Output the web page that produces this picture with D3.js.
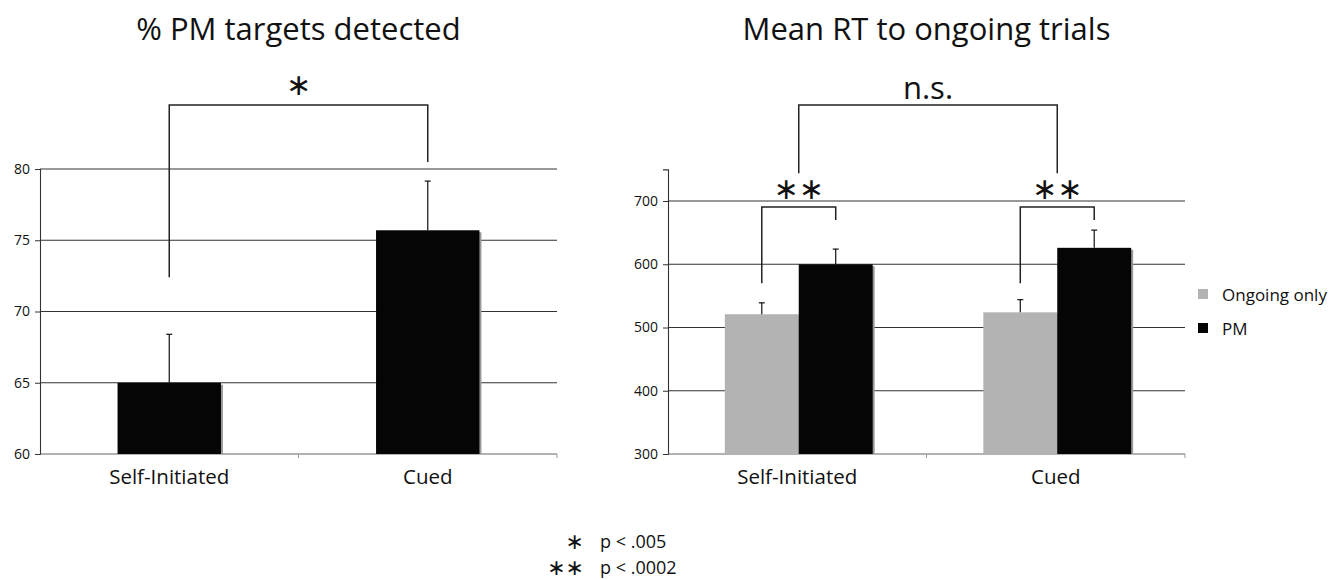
<!DOCTYPE html>
<html>
<head>
<meta charset="utf-8">
<script src="https://cdn.jsdelivr.net/npm/d3@7"></script>
<style>
  body { margin: 0; background: #fff; }
  text { font-family: "Open Sans", "Noto Sans", sans-serif; fill: #111; }
  .star { font-family: "DejaVu Sans", sans-serif; }
</style>
</head>
<body>
<svg id="chart" width="1332" height="580"></svg>
<script>
var categories = ["Self-Initiated", "Cued"];

// left panel: % PM targets detected
var pmDetected = [65.0, 75.7];
var pmDetectedErr = [3.4, 3.45];
var pmTicks = [60, 65, 70, 75, 80];

// right panel: mean RT to ongoing trials
var rtSeries = ["Ongoing only", "PM"];
var rtOngoing = [521, 524];
var rtOngoingErr = [18, 20];
var rtPM = [600, 626];
var rtPMErr = [24, 28];
var rtTicks = [300, 400, 500, 600, 700];

var colors = {"Ongoing only": "#b3b3b3", "PM": "#050505"};

var svg = d3.select("#chart");

function panel(opts) {
  var g = svg.append("g");
  var x = d3.scaleBand().domain(categories).range([opts.left, opts.right]);
  var y = d3.scaleLinear().domain(opts.domain).range([opts.bottom, opts.top]);

  // gridlines
  g.selectAll("line.grid")
    .data(opts.ticks.slice(1))
    .enter().append("line")
      .attr("x1", opts.left).attr("x2", opts.right)
      .attr("y1", function(d) { return y(d); })
      .attr("y2", function(d) { return y(d); })
      .attr("stroke", "#333").attr("stroke-width", 1.1);

  // y axis
  var yAxis = g.append("g")
      .attr("transform", "translate(" + opts.left + ",0)")
      .call(d3.axisLeft(y).tickValues(opts.ticks).tickSize(5).tickPadding(5));
  yAxis.select(".domain").attr("stroke", "#333").attr("stroke-width", 1.1);
  yAxis.selectAll(".tick line").attr("stroke", "#333");
  yAxis.selectAll("text").style("font-size", "14px").attr("fill", "#111");

  // x axis: category boundaries as ticks
  g.append("line")
    .attr("x1", opts.left).attr("x2", opts.right)
    .attr("y1", opts.bottom).attr("y2", opts.bottom)
    .attr("stroke", "#666").attr("stroke-width", 1.1);
  g.selectAll("line.xtick")
    .data(categories.slice(1).concat(["end"]))
    .enter().append("line")
      .attr("x1", function(d) { return d === "end" ? opts.right : x(d); })
      .attr("x2", function(d) { return d === "end" ? opts.right : x(d); })
      .attr("y1", opts.bottom).attr("y2", opts.bottom + 4)
      .attr("stroke", "#999");
  g.selectAll("text.cat")
    .data(categories)
    .enter().append("text")
      .attr("x", function(d) { return x(d) + x.bandwidth() / 2; })
      .attr("y", opts.bottom + 30)
      .attr("text-anchor", "middle")
      .style("font-size", "20.5px")
      .text(function(d) { return d; });

  // title
  g.append("text")
    .attr("x", (opts.left + opts.right) / 2)
    .attr("y", 40)
    .attr("text-anchor", "middle")
    .style("font-size", "31px")
    .text(opts.title);

  return {g: g, x: x, y: y};
}

function drawBars(p, xs, width, values, errs, color) {
  // thin shadow on right side of bars
  p.g.selectAll(null)
    .data(values)
    .enter().append("rect")
      .attr("x", function(d, i) { return xs(i) + 2; })
      .attr("y", function(d) { return p.y(d) + 2; })
      .attr("width", width)
      .attr("height", function(d) { return p.y.range()[0] - p.y(d) - 2; })
      .attr("fill", "#9a9a9a");
  p.g.selectAll(null)
    .data(values)
    .enter().append("rect")
      .attr("x", function(d, i) { return xs(i); })
      .attr("y", function(d) { return p.y(d); })
      .attr("width", width)
      .attr("height", function(d) { return p.y.range()[0] - p.y(d); })
      .attr("fill", color);
  // upper error bars
  var eb = p.g.selectAll(null)
    .data(values)
    .enter().append("g");
  eb.append("line")
    .attr("x1", function(d, i) { return xs(i) + width / 2; })
    .attr("x2", function(d, i) { return xs(i) + width / 2; })
    .attr("y1", function(d) { return p.y(d); })
    .attr("y2", function(d, i) { return p.y(d + errs[i]); })
    .attr("stroke", "#111").attr("stroke-width", 1.2);
  eb.append("line")
    .attr("x1", function(d, i) { return xs(i) + width / 2 - 3; })
    .attr("x2", function(d, i) { return xs(i) + width / 2 + 3; })
    .attr("y1", function(d, i) { return p.y(d + errs[i]); })
    .attr("y2", function(d, i) { return p.y(d + errs[i]); })
    .attr("stroke", "#111").attr("stroke-width", 1.2);
}

// bracket: horizontal at value top, legs down to va / vb
function bracket(p, xa, xb, top, va, vb) {
  p.g.append("path")
    .attr("d", "M" + xa + "," + p.y(va) + "V" + p.y(top) + "H" + xb + "V" + p.y(vb))
    .attr("fill", "none").attr("stroke", "#222").attr("stroke-width", 1.5);
}

function label(p, xc, v, txt, size, cls) {
  p.g.append("text")
    .attr("class", cls || null)
    .attr("x", xc).attr("y", p.y(v))
    .attr("text-anchor", "middle")
    .attr("dominant-baseline", "central")
    .style("font-size", size)
    .text(txt);
}

// ---- left panel
var left = panel({left: 40, right: 557, top: 169, bottom: 454,
  domain: [60, 80], ticks: pmTicks, title: "% PM targets detected"});
var lw = left.x.bandwidth() * 0.4;
var lxs = function(i) { return left.x(categories[i]) + (left.x.bandwidth() - lw) / 2; };
drawBars(left, lxs, lw, pmDetected, pmDetectedErr, colors.PM);
bracket(left, lxs(0) + lw / 2, lxs(1) + lw / 2, 84.5, 72.4, 80.5);
label(left, (lxs(0) + lxs(1) + lw) / 2, 85.9, "\u2217", "30px", "star");

// ---- right panel
var right = panel({left: 668, right: 1185, top: 169.4, bottom: 454,
  domain: [300, 750], ticks: rtTicks, title: "Mean RT to ongoing trials"});
var rw = right.x.bandwidth() * 0.286;
var gx = function(i) { return right.x(categories[i]) + right.x.bandwidth() / 2 + 1.5; };
drawBars(right, function(i) { return gx(i) - rw; }, rw, rtOngoing, rtOngoingErr, colors["Ongoing only"]);
drawBars(right, function(i) { return gx(i); }, rw, rtPM, rtPMErr, colors.PM);

categories.forEach(function(c, i) {
  bracket(right, gx(i) - rw / 2, gx(i) + rw / 2, 690.5, 570, 670);
  label(right, gx(i), 720, "\u2217\u2217", "30px", "star");
});
bracket(right, gx(0), gx(1), 852, 744, 744);
label(right, (gx(0) + gx(1)) / 2, 880, "n.s.", "31px");

// legend
var legend = svg.append("g").attr("transform", "translate(1198,294)");
rtSeries.forEach(function(s, i) {
  var item = legend.append("g").attr("transform", "translate(0," + (i * 34) + ")");
  item.append("rect").attr("x", 0).attr("y", -5).attr("width", 10).attr("height", 10)
    .attr("fill", colors[s]);
  item.append("text").attr("x", 24).attr("y", 0)
    .attr("dominant-baseline", "central")
    .style("font-size", "17px")
    .text(s);
});

// significance footnote
var notes = [["\u2217", "p < .005"], ["\u2217\u2217", "p < .0002"]];
var foot = svg.append("g");
notes.forEach(function(n, i) {
  foot.append("text").attr("class", "star")
    .attr("x", 584).attr("y", 541 + i * 26)
    .attr("text-anchor", "end")
    .attr("dominant-baseline", "central")
    .style("font-size", "22px")
    .text(n[0]);
  foot.append("text")
    .attr("x", 600).attr("y", 541 + i * 26)
    .attr("dominant-baseline", "central")
    .style("font-size", "18px")
    .text(n[1]);
});
</script>
</body>
</html>
